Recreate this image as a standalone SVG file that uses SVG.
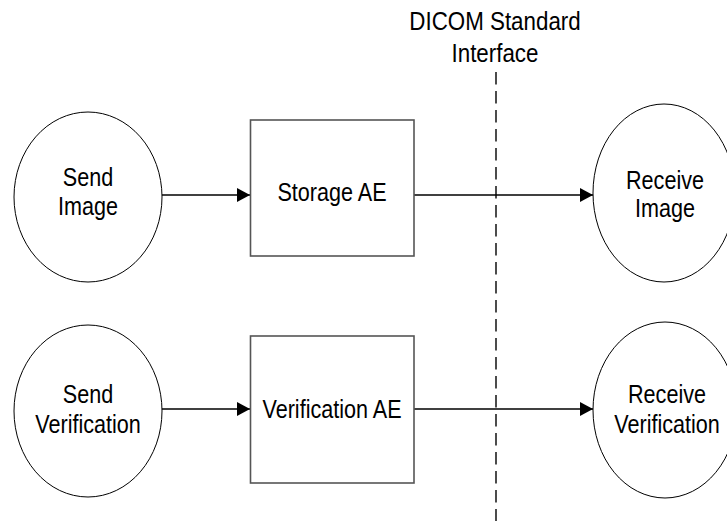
<svg xmlns="http://www.w3.org/2000/svg" width="727" height="521" viewBox="0 0 727 521">
<defs>
<style>
.lbl{font-family:"Liberation Sans",Arial,sans-serif;font-size:26px;fill:#000;text-anchor:middle}
.ell{fill:#fff;stroke:#000;stroke-width:1}
.box{fill:#fff;stroke:#555;stroke-width:1.6}
.conn{stroke:#000;stroke-width:1.3;fill:none}
.dash{stroke:#000;stroke-width:1.4;stroke-dasharray:12.5 6.5;fill:none}
</style>
<marker id="arr" viewBox="0 0 13 14" refX="13" refY="7" markerWidth="13" markerHeight="14" markerUnits="userSpaceOnUse" orient="auto">
<path d="M0,0 L13,7 L0,14 Z" fill="#000"/>
</marker>
</defs>
<rect width="727" height="521" fill="#fff"/>
<g id="interface">
<line class="dash" x1="496" y1="72" x2="496" y2="521"/>
<text class="lbl" transform="translate(495 29.5) scale(0.86 1)">DICOM Standard</text>
<text class="lbl" transform="translate(495 62) scale(0.86 1)">Interface</text>
</g>
<g id="connectors">
<line class="conn" x1="162" y1="195" x2="250" y2="195" marker-end="url(#arr)"/>
<line class="conn" x1="414" y1="195" x2="593" y2="195" marker-end="url(#arr)"/>
<line class="conn" x1="162" y1="409" x2="250" y2="409" marker-end="url(#arr)"/>
<line class="conn" x1="414" y1="409" x2="593" y2="409" marker-end="url(#arr)"/>
</g>
<g id="send-image">
<ellipse class="ell" cx="88" cy="197" rx="74" ry="85"/>
<text class="lbl" transform="translate(88 186) scale(0.83 1)">Send</text>
<text class="lbl" transform="translate(88 215) scale(0.83 1)">Image</text>
</g>
<g id="storage-ae">
<rect class="box" x="250.5" y="120" width="163.5" height="136"/>
<text class="lbl" transform="translate(332 201) scale(0.83 1)">Storage AE</text>
</g>
<g id="receive-image">
<ellipse class="ell" cx="664" cy="193" rx="71" ry="89"/>
<text class="lbl" transform="translate(665 189) scale(0.83 1)">Receive</text>
<text class="lbl" transform="translate(665 217) scale(0.83 1)">Image</text>
</g>
<g id="send-verification">
<ellipse class="ell" cx="88" cy="411" rx="74" ry="86"/>
<text class="lbl" transform="translate(88 403) scale(0.83 1)">Send</text>
<text class="lbl" transform="translate(88 433) scale(0.83 1)">Verification</text>
</g>
<g id="verification-ae">
<rect class="box" x="250.5" y="336" width="163.5" height="147"/>
<text class="lbl" transform="translate(332 418) scale(0.83 1)">Verification AE</text>
</g>
<g id="receive-verification">
<ellipse class="ell" cx="665" cy="410" rx="72" ry="88"/>
<text class="lbl" transform="translate(667 403) scale(0.83 1)">Receive</text>
<text class="lbl" transform="translate(667 433) scale(0.83 1)">Verification</text>
</g>
</svg>
